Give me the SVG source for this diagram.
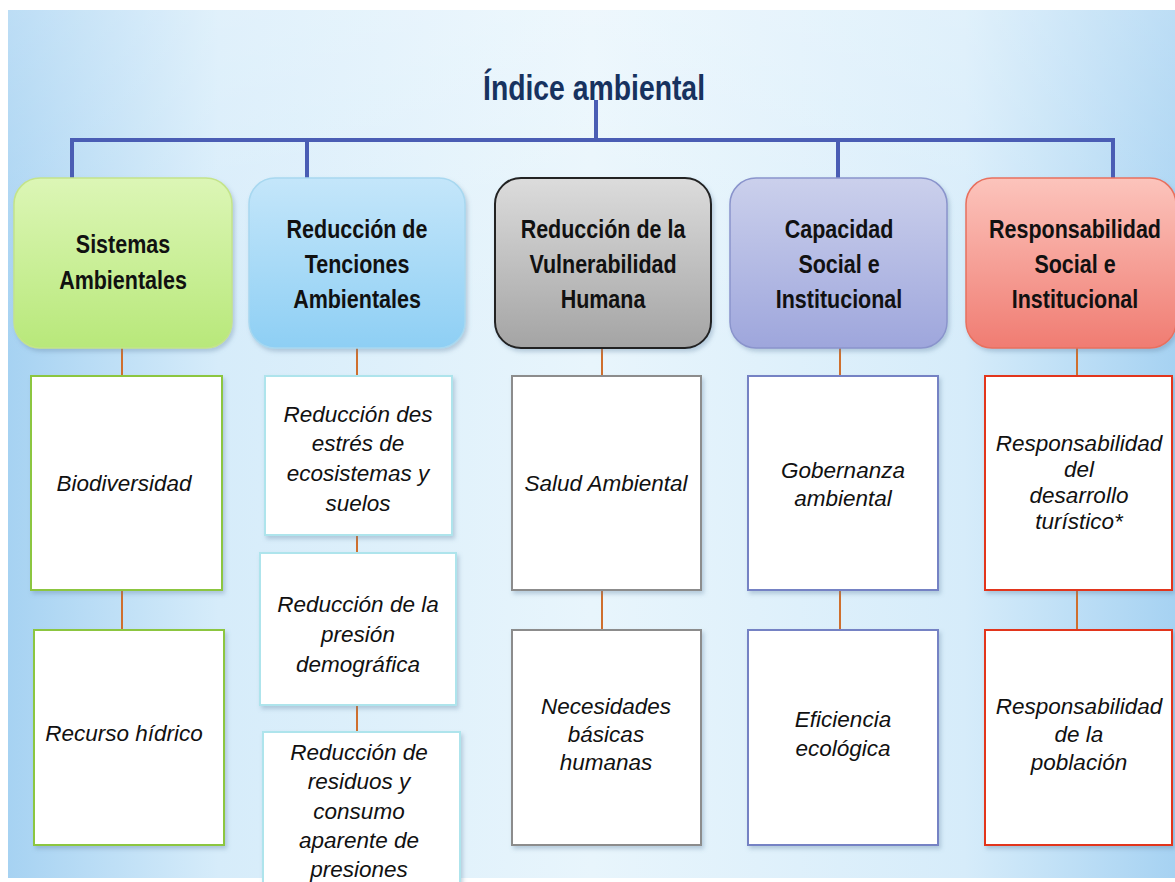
<svg xmlns="http://www.w3.org/2000/svg" width="1175" height="882" viewBox="0 0 1175 882">
<defs>
<linearGradient id="bgH" x1="0" y1="0" x2="1" y2="0">
<stop offset="0" stop-color="#a6d2f2"/>
<stop offset="0.18" stop-color="#d6ecfa"/>
<stop offset="0.5" stop-color="#e8f5fc"/>
<stop offset="0.82" stop-color="#d6ecfa"/>
<stop offset="1" stop-color="#a6d2f2"/>
</linearGradient>
<linearGradient id="bgV" x1="0" y1="0" x2="0" y2="1">
<stop offset="0" stop-color="#ffffff" stop-opacity="0.25"/>
<stop offset="0.4" stop-color="#ffffff" stop-opacity="0"/>
<stop offset="1" stop-color="#ffffff" stop-opacity="0"/>
</linearGradient>
<linearGradient id="gGreen" x1="0" y1="0" x2="0" y2="1"><stop offset="0" stop-color="#dcf6b6"/><stop offset="1" stop-color="#b8e87a"/></linearGradient>
<linearGradient id="gBlue" x1="0" y1="0" x2="0" y2="1"><stop offset="0" stop-color="#c4e6fa"/><stop offset="1" stop-color="#8ecff4"/></linearGradient>
<linearGradient id="gGray" x1="0" y1="0" x2="0" y2="1"><stop offset="0" stop-color="#dcdcdc"/><stop offset="1" stop-color="#a4a4a4"/></linearGradient>
<linearGradient id="gPurple" x1="0" y1="0" x2="0" y2="1"><stop offset="0" stop-color="#cbd0ec"/><stop offset="1" stop-color="#9ea6dc"/></linearGradient>
<linearGradient id="gRed" x1="0" y1="0" x2="0" y2="1"><stop offset="0" stop-color="#fcc4bc"/><stop offset="1" stop-color="#f07c72"/></linearGradient>
<filter id="sh" x="-10%" y="-10%" width="120%" height="120%">
<feDropShadow dx="2" dy="3" stdDeviation="2" flood-color="#6080a0" flood-opacity="0.35"/>
</filter>
</defs>
<style>
.title{font-family:"Liberation Sans",Arial,sans-serif;font-weight:bold;font-size:35px;fill:#17325f;text-anchor:middle}
.head{font-family:"Liberation Sans",Arial,sans-serif;font-weight:bold;font-size:25px;fill:#111;text-anchor:middle}
.sub{font-family:"Liberation Sans",Arial,sans-serif;font-style:italic;font-size:22.5px;fill:#111;text-anchor:middle}
.bar{stroke:#4a5db4;stroke-width:4;fill:none}
.con{stroke:#cf6f2e;stroke-width:2;fill:none}
.child{fill:#ffffff;stroke-width:2}
</style>

<rect x="0" y="0" width="1175" height="882" fill="#ffffff"/>
<rect x="8" y="10" width="1167" height="868" fill="url(#bgH)"/>
<rect x="8" y="10" width="1167" height="868" fill="url(#bgV)"/>

<g id="title">
<text class="title" transform="translate(594,100) scale(0.81,1)">Índice ambiental</text>
</g>

<g id="connectors">
<path class="bar" d="M596 100 V140 M72 180 V140 H1113 V180 M307 140 V180 M838 140 V180"/>
<path class="con" d="M122 348 V376 M122 590 V630 M357 348 V376 M357 535 V553 M357 705 V732 M602 348 V376 M602 590 V630 M840 348 V376 M840 590 V630 M1077 348 V376 M1077 590 V630"/>
</g>

<g id="h1"><rect x="14" y="178" width="218" height="170" rx="26" fill="url(#gGreen)" stroke="#c4e48a" stroke-width="1.5" filter="url(#sh)"/>
<text class="head" transform="translate(123,253) scale(0.86,1)">Sistemas</text><text class="head" transform="translate(123,289) scale(0.86,1)">Ambientales</text></g>
<g id="h2"><rect x="249" y="178" width="216" height="170" rx="26" fill="url(#gBlue)" stroke="#a8d8f0" stroke-width="1.5" filter="url(#sh)"/>
<text class="head" transform="translate(357,238) scale(0.86,1)">Reducción de</text><text class="head" transform="translate(357,273) scale(0.86,1)">Tenciones</text><text class="head" transform="translate(357,308) scale(0.86,1)">Ambientales</text></g>
<g id="h3"><rect x="495" y="178" width="216" height="170" rx="26" fill="url(#gGray)" stroke="#222" stroke-width="2" filter="url(#sh)"/>
<text class="head" transform="translate(603,238) scale(0.86,1)">Reducción de la</text><text class="head" transform="translate(603,273) scale(0.86,1)">Vulnerabilidad</text><text class="head" transform="translate(603,308) scale(0.86,1)">Humana</text></g>
<g id="h4"><rect x="730" y="178" width="217" height="170" rx="26" fill="url(#gPurple)" stroke="#8a94cc" stroke-width="1.5" filter="url(#sh)"/>
<text class="head" transform="translate(839,238) scale(0.86,1)">Capacidad</text><text class="head" transform="translate(839,273) scale(0.86,1)">Social e</text><text class="head" transform="translate(839,308) scale(0.86,1)">Institucional</text></g>
<g id="h5"><rect x="966" y="178" width="210" height="170" rx="26" fill="url(#gRed)" stroke="#e8705e" stroke-width="1.5" filter="url(#sh)"/>
<text class="head" transform="translate(1075,238) scale(0.86,1)">Responsabilidad</text><text class="head" transform="translate(1075,273) scale(0.86,1)">Social e</text><text class="head" transform="translate(1075,308) scale(0.86,1)">Institucional</text></g>

<g id="c1a"><rect class="child" x="31" y="376" width="191" height="214" stroke="#8cc63f" filter="url(#sh)"/>
<text class="sub" x="124" y="491">Biodiversidad</text></g>
<g id="c1b"><rect class="child" x="34" y="630" width="190" height="215" stroke="#8cc63f" filter="url(#sh)"/>
<text class="sub" x="124" y="741">Recurso hídrico</text></g>

<g id="c2a"><rect class="child" x="265" y="376" width="187" height="159" stroke="#aee4ec" filter="url(#sh)"/>
<text class="sub" x="358" y="422">Reducción des</text><text class="sub" x="358" y="451">estrés de</text><text class="sub" x="358" y="481">ecosistemas y</text><text class="sub" x="358" y="511">suelos</text></g>
<g id="c2b"><rect class="child" x="260" y="553" width="196" height="152" stroke="#aee4ec" filter="url(#sh)"/>
<text class="sub" x="358" y="612">Reducción de la</text><text class="sub" x="358" y="642">presión</text><text class="sub" x="358" y="672">demográfica</text></g>
<g id="c2c"><rect class="child" x="263" y="732" width="197" height="160" stroke="#aee4ec" filter="url(#sh)"/>
<text class="sub" x="359" y="760">Reducción de</text><text class="sub" x="359" y="789">residuos y</text><text class="sub" x="359" y="819">consumo</text><text class="sub" x="359" y="848">aparente de</text><text class="sub" x="359" y="877">presiones</text></g>

<g id="c3a"><rect class="child" x="512" y="376" width="189" height="214" stroke="#8c8c8c" filter="url(#sh)"/>
<text class="sub" x="606" y="491">Salud Ambiental</text></g>
<g id="c3b"><rect class="child" x="512" y="630" width="189" height="215" stroke="#8c8c8c" filter="url(#sh)"/>
<text class="sub" x="606" y="714">Necesidades</text><text class="sub" x="606" y="742">básicas</text><text class="sub" x="606" y="770">humanas</text></g>

<g id="c4a"><rect class="child" x="748" y="376" width="190" height="214" stroke="#7482c4" filter="url(#sh)"/>
<text class="sub" x="843" y="478">Gobernanza</text><text class="sub" x="843" y="506">ambiental</text></g>
<g id="c4b"><rect class="child" x="748" y="630" width="190" height="215" stroke="#7482c4" filter="url(#sh)"/>
<text class="sub" x="843" y="727">Eficiencia</text><text class="sub" x="843" y="756">ecológica</text></g>

<g id="c5a"><rect class="child" x="985" y="376" width="187" height="214" stroke="#e2341e" filter="url(#sh)"/>
<text class="sub" x="1079" y="451">Responsabilidad</text><text class="sub" x="1079" y="477">del</text><text class="sub" x="1079" y="503">desarrollo</text><text class="sub" x="1079" y="529">turístico*</text></g>
<g id="c5b"><rect class="child" x="985" y="630" width="187" height="215" stroke="#e2341e" filter="url(#sh)"/>
<text class="sub" x="1079" y="714">Responsabilidad</text><text class="sub" x="1079" y="742">de la</text><text class="sub" x="1079" y="770">población</text></g>
</svg>
